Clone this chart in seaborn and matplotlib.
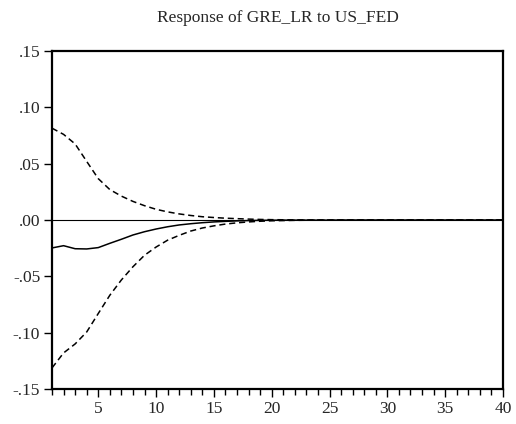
import pandas as pd
import matplotlib.pyplot as plt
import seaborn as sns
from matplotlib.ticker import MultipleLocator, FuncFormatter

# impulse response of GRE_LR to a US_FED shock, periods 1..40
periods = list(range(1, 41))
response = [-0.0248, -0.0228, -0.0255, -0.0257, -0.0245, -0.0207, -0.0171, -0.0133,
            -0.0104, -0.0080, -0.0060, -0.0044, -0.0033, -0.0024, -0.0017, -0.0012,
            -0.0008, -0.0005, -0.0003, -0.0002] + [-0.0001] * 5 + [0.0] * 15
upper = [0.0815, 0.0760, 0.0675, 0.0520, 0.0367, 0.0270, 0.0212, 0.0165,
         0.0127, 0.0095, 0.0072, 0.0054, 0.0040, 0.0029, 0.0022, 0.0016,
         0.0012, 0.0008, 0.0005, 0.0003, 0.0002, 0.0001] + [0.0] * 18
lower = [-0.1313, -0.1180, -0.1100, -0.0994, -0.0830, -0.0668, -0.0532, -0.0415,
         -0.0313, -0.0240, -0.0179, -0.0136, -0.0098, -0.0071, -0.0052, -0.0036,
         -0.0025, -0.0017, -0.0011, -0.0007, -0.0005, -0.0003, -0.0002] + [-0.0001] * 4 + [0.0] * 13

df = pd.DataFrame({"period": periods, "response": response, "upper": upper, "lower": lower})

sns.set_style("ticks")
plt.rcParams["font.family"] = ["Liberation Serif", "DejaVu Serif"]

fig = plt.figure(figsize=(5.16, 4.24), dpi=100)
ax = fig.add_axes([52 / 516, 1 - 389 / 424, 451 / 516, 338 / 424])

ax.axhline(0, color="black", lw=0.8)
sns.lineplot(data=df, x="period", y="response", color="black", lw=1.1, ax=ax)
sns.lineplot(data=df, x="period", y="upper", color="black", lw=1.1, ax=ax)
sns.lineplot(data=df, x="period", y="lower", color="black", lw=1.1, ax=ax)
# confidence bands dashed
ax.lines[2].set_linestyle((0, (4, 2.5)))
ax.lines[3].set_linestyle((0, (4, 2.5)))

ax.set_xlim(1, 40)
ax.set_ylim(-0.15, 0.15)
ax.xaxis.set_major_locator(MultipleLocator(5))
ax.xaxis.set_minor_locator(MultipleLocator(1))
ax.yaxis.set_major_locator(MultipleLocator(0.05))


def fmt(v, pos):
    return f"{v:.2f}".replace("0.", ".")


ax.yaxis.set_major_formatter(FuncFormatter(fmt))
ax.tick_params(axis="both", which="major", direction="out", length=6, width=1,
               labelsize=12.5, color="black", pad=2.5)
ax.tick_params(axis="x", which="minor", direction="out", length=4, width=1, color="black")
for s in ax.spines.values():
    s.set_linewidth(1.6)
    s.set_color("black")
    s.set_visible(True)
ax.set_xlabel("")
ax.set_ylabel("")
ax.set_title("Response of GRE_LR to US_FED", fontsize=12.5, pad=21)

fig.savefig("out.png", dpi=100)
